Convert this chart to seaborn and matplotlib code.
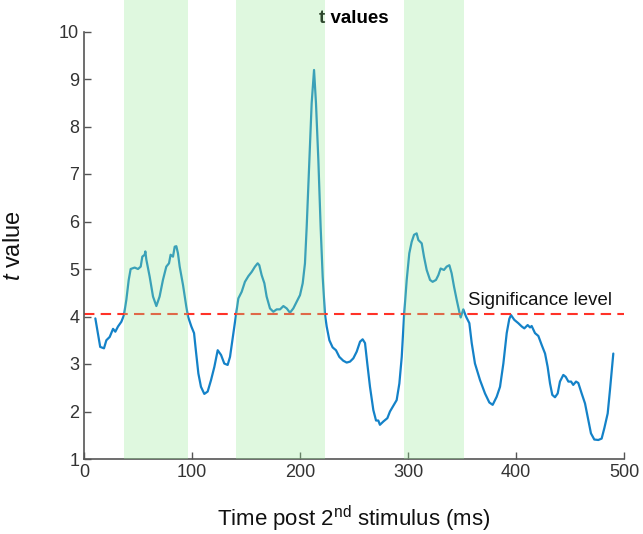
import matplotlib
matplotlib.use("Agg")
import matplotlib.pyplot as plt
import seaborn as sns
import pandas as pd

# t statistic over time after the second stimulus
time_ms = [10.5, 15, 18.5, 20.7, 23.8, 26.9, 29, 31.5, 34.6, 37, 39.2, 41.4, 43.2, 46.9, 50,
           52.5, 54, 56.2, 56.8, 57.7, 60.8, 63.9, 67, 70, 73.1, 76.2, 78.7, 80.2, 82.4, 84,
           85.5, 87, 88.6, 91.7, 94.7, 96.3, 99.4, 101.9, 103.5, 105.9, 108.3, 111.4, 114.5,
           117.6, 120.7, 123.8, 126.9, 129.9, 133, 135.2, 138.3, 140.4, 142.9, 146, 149, 152.2,
           155.3, 158.3, 160.8, 162.3, 164.5, 167, 169.1, 172.2, 175.3, 178.4, 181.5, 184.6,
           187.7, 190.7, 193.8, 196.9, 200, 202.5, 204.6, 206.2, 207.7, 209.3, 210.8, 213,
           214.8, 217, 219.1, 221, 223.1, 224.7, 227.2, 230.2, 233.3, 236.4, 240, 243.2, 246.3,
           249.4, 252.5, 255.6, 258, 260.2, 262.3, 264.8, 267.9, 270.4, 272.5, 274, 277.2,
           280.9, 283.3, 286.4, 289.5, 292, 294.2, 296.3, 298.8, 301.2, 303.4, 305.6, 308,
           309.6, 312.7, 314.8, 317.3, 320.4, 322.8, 325.9, 328.1, 330.2, 333.3, 335.8, 338.3,
           340.4, 342.6, 345.1, 347.5, 348.8, 351.2, 353.7, 356.8, 359, 362, 366.7, 371.3,
           375.3, 378.4, 382.1, 385.2, 388.3, 391.4, 393.8, 395.4, 398.4, 402.1, 405.3, 407.7,
           410.8, 413, 414.5, 417.6, 420.7, 423.8, 426.9, 429.3, 431.5, 433.6, 436.1, 438.6,
           440.7, 443.8, 446, 448.5, 451, 453, 455.6, 457.7, 460.8, 463.9, 467, 469.4, 472.5,
           476.2, 479.3, 481.8, 484.9, 487, 490.1]
t_value = [3.96, 3.36, 3.33, 3.5, 3.57, 3.74, 3.68, 3.79, 3.89, 4.03, 4.35, 4.77, 5.0, 5.03, 5.0,
           5.05, 5.26, 5.3, 5.37, 5.2, 4.84, 4.42, 4.22, 4.42, 4.77, 5.05, 5.12, 5.3, 5.26, 5.47,
           5.48, 5.33, 5.05, 4.66, 4.21, 4.0, 3.79, 3.65, 3.3, 2.8, 2.52, 2.37, 2.42,
           2.66, 2.94, 3.29, 3.19, 3.01, 2.98, 3.15, 3.65, 4.0, 4.38, 4.52, 4.73, 4.85,
           4.94, 5.05, 5.12, 5.08, 4.87, 4.7, 4.42, 4.17, 4.1, 4.15, 4.15, 4.22,
           4.17, 4.08, 4.17, 4.31, 4.45, 4.7, 5.12, 5.89, 6.73, 7.65, 8.49, 9.19,
           8.49, 7.29, 5.89, 4.84, 4.05, 3.79, 3.5, 3.35, 3.29, 3.15, 3.07, 3.03, 3.05,
           3.12, 3.26, 3.47, 3.52, 3.44, 3.01, 2.52, 2.03, 1.81, 1.81, 1.72, 1.79,
           1.86, 2.0, 2.12, 2.24, 2.59, 3.15, 4.0, 4.77, 5.33, 5.57, 5.72, 5.75,
           5.61, 5.54, 5.26, 4.98, 4.77, 4.73, 4.77, 4.87, 5.01, 4.98, 5.05, 5.08,
           4.91, 4.63, 4.35, 4.1, 3.98, 4.15, 4.0, 3.86, 3.44, 3.01, 2.66, 2.38,
           2.19, 2.14, 2.31, 2.52, 3.01, 3.65, 3.95, 4.03, 3.93, 3.86, 3.79, 3.75,
           3.82, 3.77, 3.8, 3.65, 3.59, 3.4, 3.22, 2.94, 2.59, 2.35, 2.3, 2.38,
           2.63, 2.77, 2.73, 2.63, 2.63, 2.56, 2.63, 2.6, 2.38, 2.17, 1.82, 1.54, 1.41,
           1.4, 1.43, 1.65, 1.96, 2.45, 3.22]

significance_level = 4.05
sig_windows = [(37, 96), (141, 223), (296, 352)]
x_ticks = [0, 100, 200, 300, 400, 500]
y_ticks = [1, 2, 3, 4, 5, 6, 7, 8, 9, 10]

sns.set_style("ticks")
plt.rcParams["font.family"] = ["Liberation Sans", "DejaVu Sans"]
plt.rcParams["mathtext.fontset"] = "custom"
plt.rcParams["mathtext.rm"] = "Liberation Sans"
plt.rcParams["mathtext.it"] = "Liberation Sans:italic"
plt.rcParams["mathtext.bf"] = "Liberation Sans:bold"

axis_grey = "#555555"
label_grey = "#333333"

fig = plt.figure(figsize=(6.43, 5.34), dpi=100)
ax = fig.add_axes([84 / 643, 1 - 459 / 534, 540 / 643, 427.5 / 534])

df = pd.DataFrame({"time": time_ms, "t": t_value})
sns.lineplot(data=df, x="time", y="t", ax=ax, color="#1482c8", linewidth=1.6,
             estimator=None, sort=False, zorder=2)

ax.axhline(significance_level, color="#ff3228", linestyle=(0, (5, 3)), linewidth=1.5, zorder=2)
ax.text(356, significance_level + 0.2, "Significance level", fontsize=13.4,
        color="#111111", va="baseline", ha="left")

# shaded windows drawn on top, semi-transparent, reaching above the axes
for start, end in sig_windows:
    ax.axvspan(start, end, ymin=0, ymax=1.1, color=(0.59, 0.92, 0.59), alpha=0.3,
               linewidth=0, clip_on=False, zorder=5)

ax.set_xlim(0, 500)
ax.set_ylim(1, 10)
ax.set_xticks(x_ticks)
ax.set_yticks(y_ticks)
ax.tick_params(direction="in", length=5, width=1, colors=axis_grey, labelcolor=label_grey,
               labelsize=13)
for side in ("top", "right"):
    ax.spines[side].set_visible(False)
for side in ("left", "bottom"):
    ax.spines[side].set_color(axis_grey)
    ax.spines[side].set_linewidth(1.2)

ax.set_title("t values", fontsize=13.5, fontweight="bold", color="black", pad=6)
ax.set_xlabel(r"Time post 2$^{\rm nd}$ stimulus (ms)", fontsize=16, color="#111111")
ax.set_ylabel(r"$t$ value", fontsize=17, color="#111111")
ax.xaxis.set_label_coords(0.5, -0.105)
ax.yaxis.set_label_coords(-0.11, 0.5)

fig.savefig("out.png", dpi=100)
